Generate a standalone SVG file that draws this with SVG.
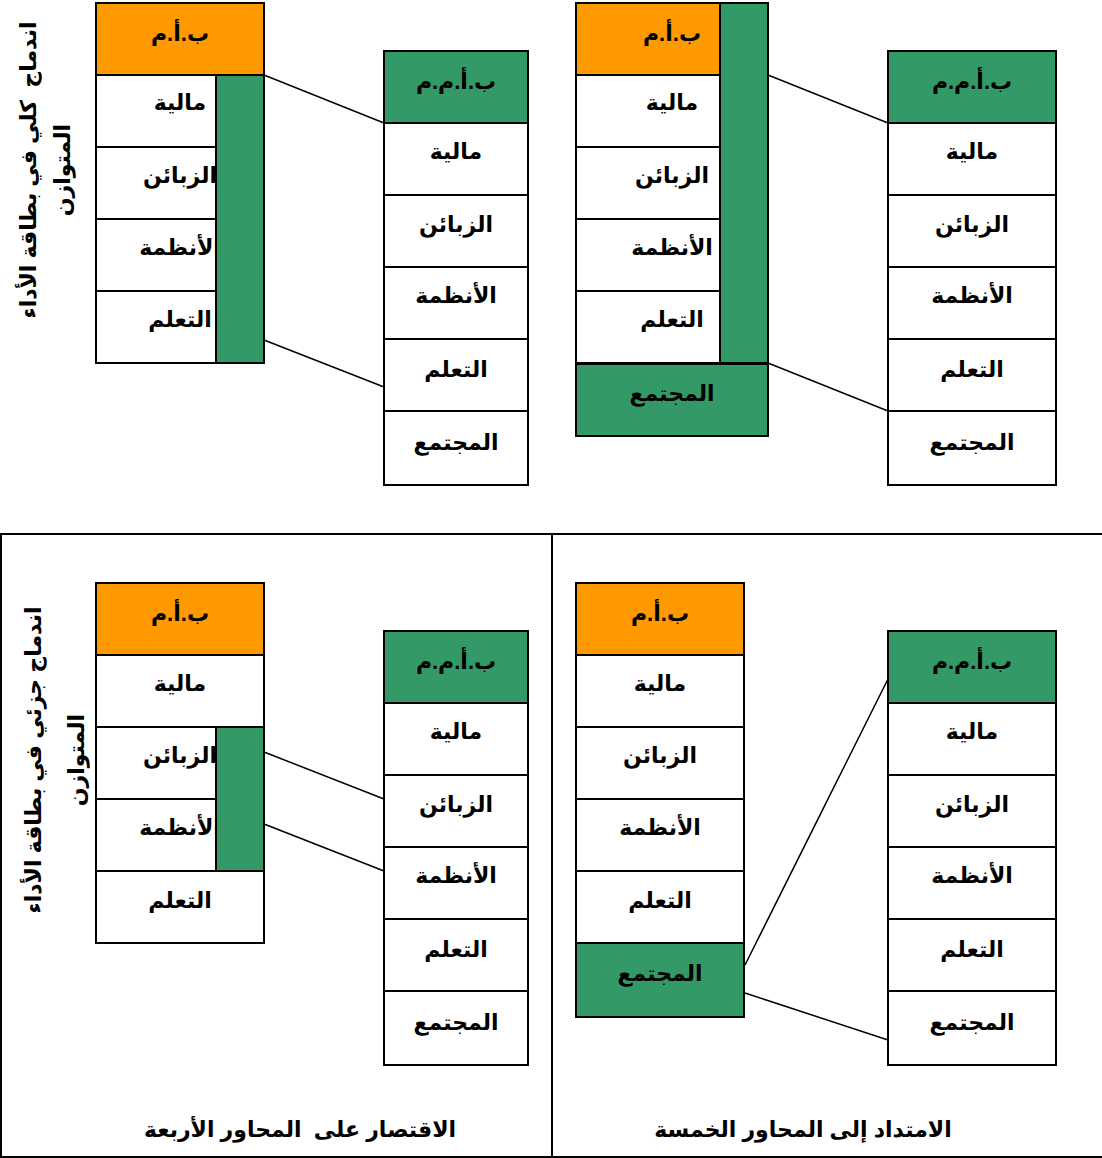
<svg xmlns="http://www.w3.org/2000/svg" width="1102" height="1158" viewBox="0 0 1102 1158">
<style>
.w{fill:#fff;stroke:#000;stroke-width:2}
.o{fill:#FF9900;stroke:#000;stroke-width:2}
.g{fill:#339966;stroke:#000;stroke-width:2}
.t{font-family:"Liberation Sans","DejaVu Sans",sans-serif;font-weight:bold;font-size:22px;text-anchor:middle;fill:#000}
.c{stroke:#000;stroke-width:1.5;fill:none}
.f{fill:none;stroke:#000;stroke-width:2}
</style>
<path class="f" d="M1102,534 H1 V1157 H1102"/>
<line class="f" x1="552" y1="534" x2="552" y2="1157"/>

<g id="q1-left">
<rect class="o" x="96" y="3" width="168" height="72"/>
<rect class="w" x="96" y="75" width="168" height="72"/>
<rect class="w" x="96" y="147" width="168" height="72"/>
<rect class="w" x="96" y="219" width="168" height="72"/>
<rect class="w" x="96" y="291" width="168" height="72"/>
<text class="t" x="180" y="41">ب.أ.م</text>
<text class="t" x="180" y="110">مالية</text>
<text class="t" x="180" y="183">الزبائن</text>
<text class="t" x="180" y="255">الأنظمة</text>
<text class="t" x="180" y="327">التعلم</text>
<rect class="g" x="216" y="75" width="48" height="288"/>
</g>
<g id="q1-right">
<rect class="g" x="384" y="51" width="144" height="72"/>
<rect class="w" x="384" y="123" width="144" height="72"/>
<rect class="w" x="384" y="195" width="144" height="72"/>
<rect class="w" x="384" y="267" width="144" height="72"/>
<rect class="w" x="384" y="339" width="144" height="72"/>
<rect class="w" x="384" y="411" width="144" height="74"/>
<text class="t" x="456" y="89">ب.أ.م.م</text>
<text class="t" x="456" y="159">مالية</text>
<text class="t" x="456" y="232">الزبائن</text>
<text class="t" x="456" y="303">الأنظمة</text>
<text class="t" x="456" y="377">التعلم</text>
<text class="t" x="456" y="450">المجتمع</text>
</g>
<g id="q1-label">
<text class="t" transform="translate(36,170) rotate(-90)" xml:space="preserve">اندماج  كلي في بطاقة الأداء</text>
<text class="t" transform="translate(70,170) rotate(-90)">المتوازن</text>
</g>

<g id="q2-left">
<rect class="o" x="576" y="3" width="144" height="72"/>
<rect class="w" x="576" y="75" width="144" height="72"/>
<rect class="w" x="576" y="147" width="144" height="72"/>
<rect class="w" x="576" y="219" width="144" height="72"/>
<rect class="w" x="576" y="291" width="144" height="72"/>
<text class="t" x="672" y="41">ب.أ.م</text>
<text class="t" x="672" y="110">مالية</text>
<text class="t" x="672" y="183">الزبائن</text>
<text class="t" x="672" y="255">الأنظمة</text>
<text class="t" x="672" y="327">التعلم</text>
<rect class="g" x="720" y="3" width="48" height="360"/>
<rect class="g" x="576" y="364" width="192" height="72"/>
<text class="t" x="672" y="401">المجتمع</text>
</g>
<g id="q2-right">
<rect class="g" x="888" y="51" width="168" height="72"/>
<rect class="w" x="888" y="123" width="168" height="72"/>
<rect class="w" x="888" y="195" width="168" height="72"/>
<rect class="w" x="888" y="267" width="168" height="72"/>
<rect class="w" x="888" y="339" width="168" height="72"/>
<rect class="w" x="888" y="411" width="168" height="74"/>
<text class="t" x="972" y="89">ب.أ.م.م</text>
<text class="t" x="972" y="159">مالية</text>
<text class="t" x="972" y="232">الزبائن</text>
<text class="t" x="972" y="303">الأنظمة</text>
<text class="t" x="972" y="377">التعلم</text>
<text class="t" x="972" y="450">المجتمع</text>
</g>

<g id="q3-left">
<rect class="o" x="96" y="583" width="168" height="72"/>
<rect class="w" x="96" y="655" width="168" height="72"/>
<rect class="w" x="96" y="727" width="168" height="72"/>
<rect class="w" x="96" y="799" width="168" height="72"/>
<rect class="w" x="96" y="871" width="168" height="72"/>
<text class="t" x="180" y="621">ب.أ.م</text>
<text class="t" x="180" y="691">مالية</text>
<text class="t" x="180" y="763">الزبائن</text>
<text class="t" x="180" y="835">الأنظمة</text>
<text class="t" x="180" y="908">التعلم</text>
<rect class="g" x="216" y="727" width="48" height="144"/>
</g>
<g id="q3-right">
<rect class="g" x="384" y="631" width="144" height="72"/>
<rect class="w" x="384" y="703" width="144" height="72"/>
<rect class="w" x="384" y="775" width="144" height="72"/>
<rect class="w" x="384" y="847" width="144" height="72"/>
<rect class="w" x="384" y="919" width="144" height="72"/>
<rect class="w" x="384" y="991" width="144" height="74"/>
<text class="t" x="456" y="669">ب.أ.م.م</text>
<text class="t" x="456" y="739">مالية</text>
<text class="t" x="456" y="812">الزبائن</text>
<text class="t" x="456" y="883">الأنظمة</text>
<text class="t" x="456" y="957">التعلم</text>
<text class="t" x="456" y="1030">المجتمع</text>
</g>
<g id="q3-label">
<text class="t" transform="translate(41,760) rotate(-90)">اندماج جزئي في بطاقة الأداء</text>
<text class="t" transform="translate(84,760) rotate(-90)">المتوازن</text>
</g>

<g id="q4-left">
<rect class="o" x="576" y="583" width="168" height="72"/>
<rect class="w" x="576" y="655" width="168" height="72"/>
<rect class="w" x="576" y="727" width="168" height="72"/>
<rect class="w" x="576" y="799" width="168" height="72"/>
<rect class="w" x="576" y="871" width="168" height="72"/>
<rect class="g" x="576" y="943" width="168" height="74"/>
<text class="t" x="660" y="621">ب.أ.م</text>
<text class="t" x="660" y="691">مالية</text>
<text class="t" x="660" y="763">الزبائن</text>
<text class="t" x="660" y="835">الأنظمة</text>
<text class="t" x="660" y="908">التعلم</text>
<text class="t" x="660" y="981">المجتمع</text>
</g>
<g id="q4-right">
<rect class="g" x="888" y="631" width="168" height="72"/>
<rect class="w" x="888" y="703" width="168" height="72"/>
<rect class="w" x="888" y="775" width="168" height="72"/>
<rect class="w" x="888" y="847" width="168" height="72"/>
<rect class="w" x="888" y="919" width="168" height="72"/>
<rect class="w" x="888" y="991" width="168" height="74"/>
<text class="t" x="972" y="669">ب.أ.م.م</text>
<text class="t" x="972" y="739">مالية</text>
<text class="t" x="972" y="812">الزبائن</text>
<text class="t" x="972" y="883">الأنظمة</text>
<text class="t" x="972" y="957">التعلم</text>
<text class="t" x="972" y="1030">المجتمع</text>
</g>

<g id="captions">
<text class="t" x="300" y="1137" xml:space="preserve">الاقتصار على  المحاور الأربعة</text>
<text class="t" x="803" y="1137">الامتداد إلى المحاور الخمسة</text>
</g>

<g id="connectors">
<line class="c" x1="264" y1="75" x2="384" y2="123"/>
<line class="c" x1="264" y1="340" x2="384" y2="387"/>
<line class="c" x1="768" y1="75" x2="888" y2="123"/>
<line class="c" x1="768" y1="363" x2="888" y2="411"/>
<line class="c" x1="264" y1="752" x2="384" y2="799"/>
<line class="c" x1="264" y1="824" x2="384" y2="871"/>
<line class="c" x1="745" y1="965" x2="888" y2="679"/>
<line class="c" x1="745" y1="993" x2="888" y2="1040"/>
</g>
</svg>
